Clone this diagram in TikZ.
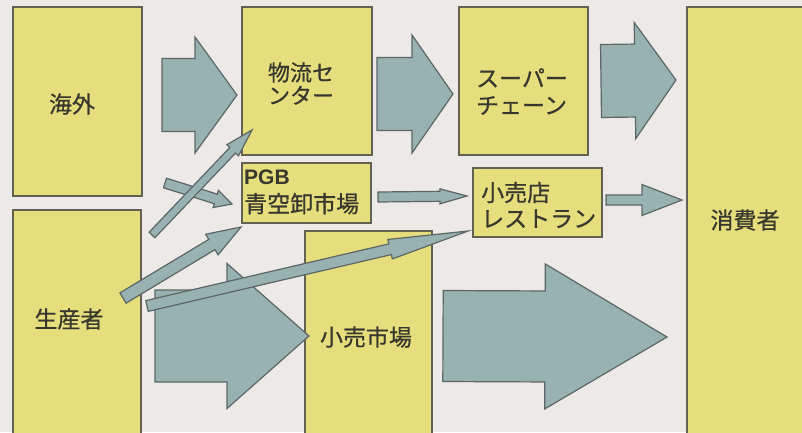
\documentclass[tikz,border=0pt]{standalone}
\usepackage{fontspec}
\setmainfont{Noto Sans CJK JP}[FakeBold=0.6]
\newfontfamily\latinbold{Liberation Sans}
\definecolor{bgc}{RGB}{236,233,230}
\definecolor{boxfill}{RGB}{230,222,124}
\definecolor{boxline}{RGB}{98,98,82}
\definecolor{arrfill}{RGB}{152,177,177}
\definecolor{arrline}{RGB}{92,102,102}
\definecolor{txt}{RGB}{55,55,45}
\tikzset{
  boxsty/.style={fill=boxfill,draw=boxline,line width=1.8pt},
  arrowbody/.style={fill=arrfill,draw=arrline,line width=1.2pt,line join=miter},
  lbl/.style={text=txt,font=\fontsize{23}{27}\selectfont,inner sep=0pt,align=left}
}
% block arrow: x1 y1 (tail centre) x2 y2 (tip) shaft-half head-half head-length
\newcommand\blockarrow[7]{%
  \pgfmathsetmacro\baAng{atan2(#2-#4,#3-#1)}%
  \pgfmathsetmacro\baLen{veclen(#3-#1,#4-#2)}%
  \pgfmathsetmacro\baBase{\baLen-#7}%
  \begin{scope}[shift={(#1,#2)},rotate=\baAng]
    \filldraw[arrowbody] (0,#5) -- (\baBase,#5) -- (\baBase,#6) -- (\baLen,0)
      -- (\baBase,-#6) -- (\baBase,-#5) -- (0,-#5) -- cycle;
  \end{scope}}
\begin{document}
\begin{tikzpicture}[x=1pt,y=-1pt]
\useasboundingbox (0,0) rectangle (802,432);
\clip (0,0) rectangle (802,432);
\fill[bgc] (0,0) rectangle (802,432);

% boxes
\draw[boxsty] (13,7) rectangle (142,196);
\node (kaigai) at (77.5,101.5) {};
\draw[boxsty] (13,210) rectangle (141,445);
\node (seisan) at (77,320) {};
\draw[boxsty] (242,7) rectangle (372,155);
\node (butsuryu) at (307,81) {};
\draw[boxsty] (242,163) rectangle (371,223);
\node (pgb) at (306.5,193) {};
\draw[boxsty] (459,7) rectangle (588,155);
\node (super) at (523.5,81) {};
\draw[boxsty] (473,168) rectangle (602,237);
\node (kouri) at (537.5,202.5) {};
\draw[boxsty] (305,231) rectangle (432,445);
\node (ichiba) at (368.5,337) {};
\draw[boxsty] (687,7) rectangle (810,445);
\node (shouhi) at (745,220) {};

% big block arrows
\blockarrow{162}{95}{237}{95}{36.5}{58}{42}
\blockarrow{377}{94}{453}{94}{36.5}{59}{41}
\blockarrow{601}{81}{676}{80}{36.5}{58}{41}
\blockarrow{606}{200}{682}{200}{5}{15.5}{40}
\blockarrow{378}{197}{467}{196}{5}{7.5}{27}
\blockarrow{155}{336}{309}{336}{46}{72.5}{82}
\blockarrow{443}{336}{667}{337}{45.5}{72.5}{122}

% thin diagonal arrows
\blockarrow{165}{183}{232}{204}{5}{9}{17}
\blockarrow{152}{235}{252}{130}{4}{8}{28}
\blockarrow{123}{298}{241}{227}{6}{12}{34}
\blockarrow{147}{306}{468}{231}{5.5}{10}{80}

% labels
\node[lbl] (t1) at (72,104) {海外};
\node[lbl,font=\fontsize{22}{23}\selectfont] (t2) at (301,83.5) {物流セ\\ンター};
\node[lbl,anchor=west] (t3) at (244,192) {{\latinbold\bfseries\fontsize{21}{30}\selectfont PGB}\\[1pt]青空卸市場};
\node[lbl] (t4) at (522,91.5) {スーパー\\チェーン};
\node[lbl,anchor=west,font=\fontsize{23}{26}\selectfont] (t5) at (481,205) {小売店\\レストラン};
\node[lbl] (t6) at (69,319) {生産者};
\node[lbl] (t7) at (366,337) {小売市場};
\node[lbl] (t8) at (745,220) {消費者};
\end{tikzpicture}
\end{document}
